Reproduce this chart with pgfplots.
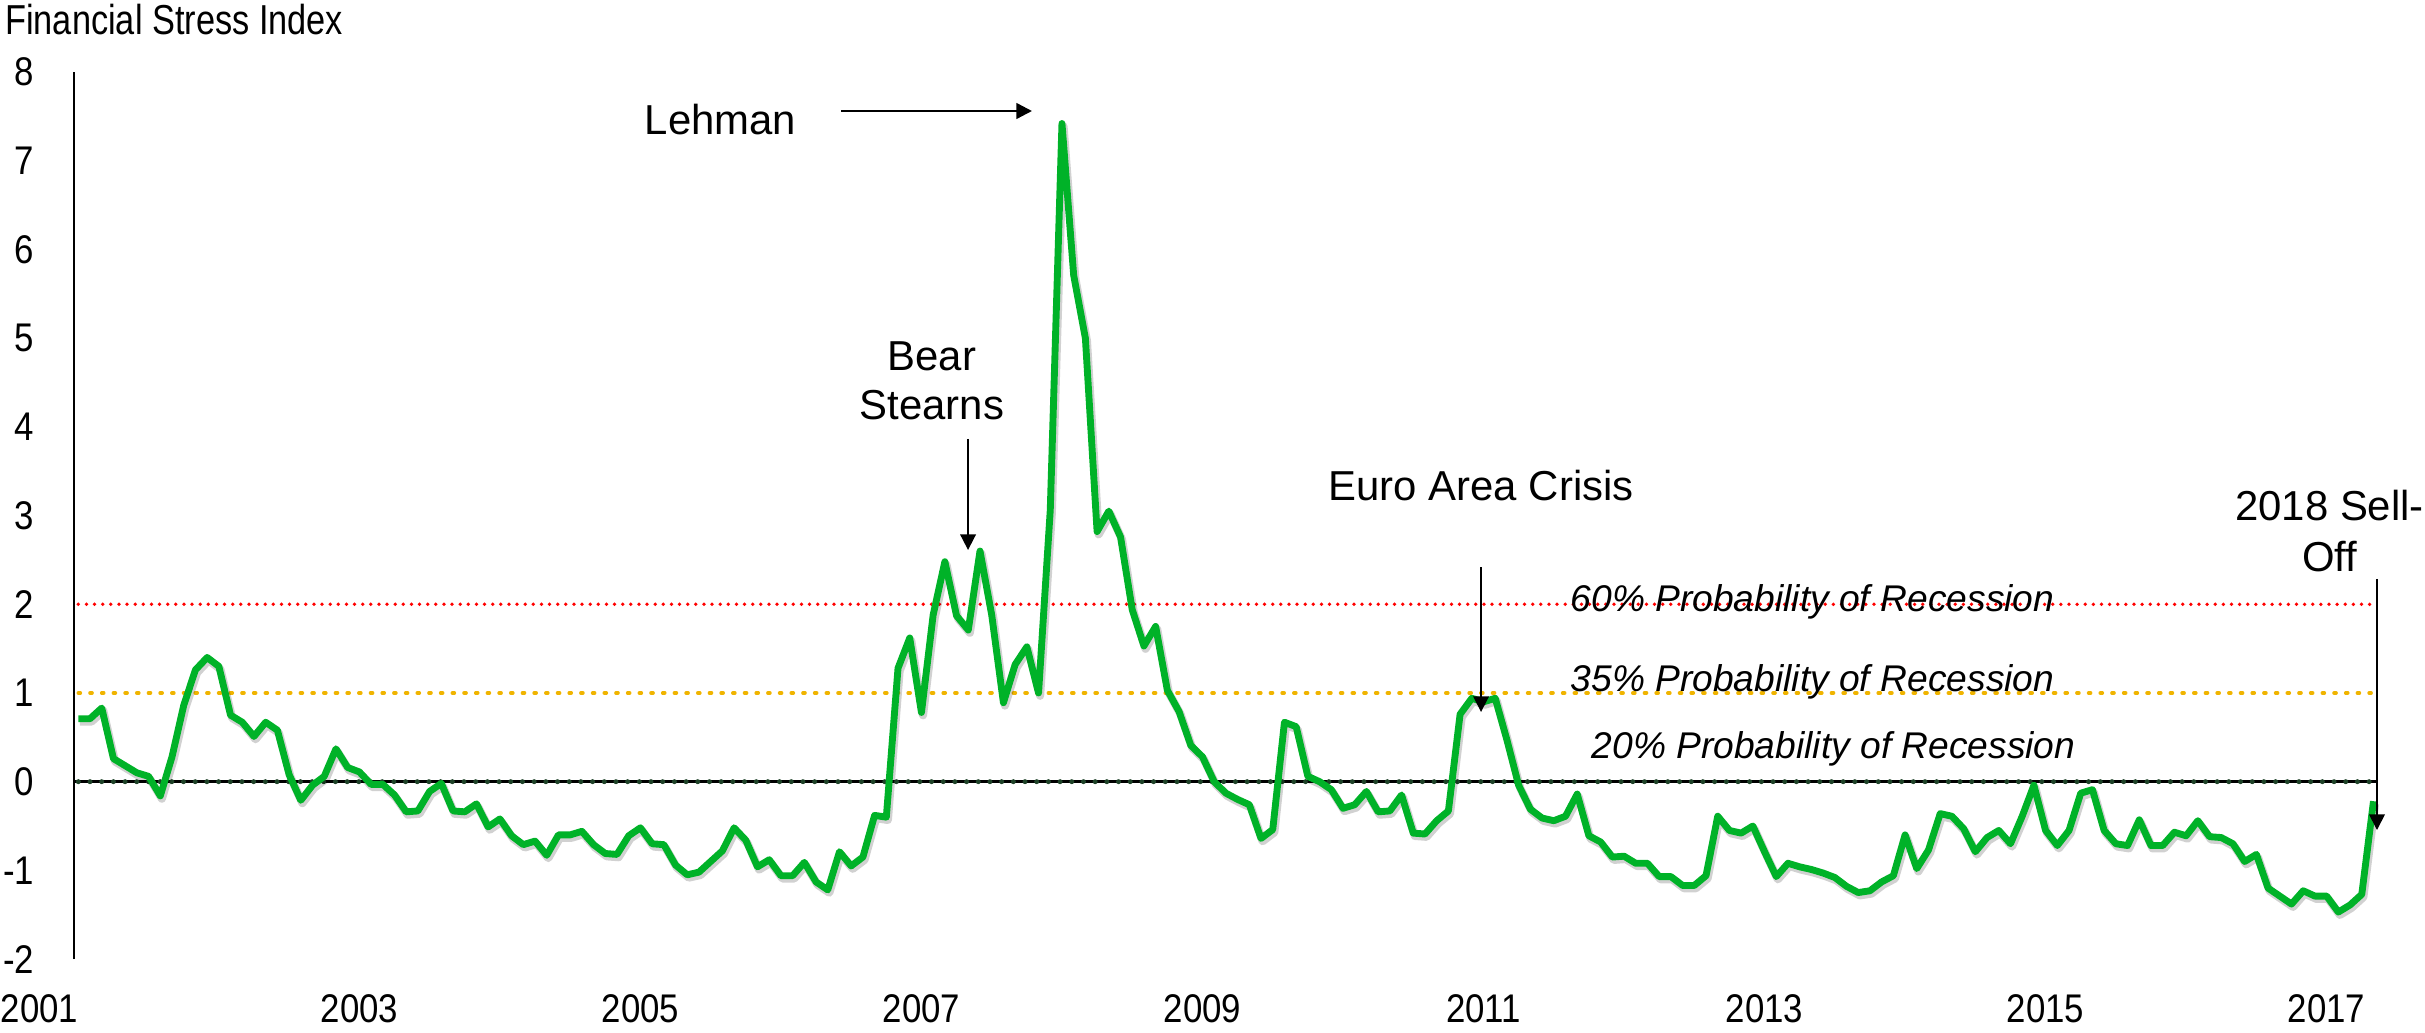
\documentclass[border=0pt]{standalone}
\usepackage{fontspec}
\setmainfont{Liberation Sans}
\usepackage{graphicx}
\usepackage{pgfplots}
\usepackage{pgfplotstable}
\pgfplotsset{compat=1.18}
\usetikzlibrary{arrows.meta}
\definecolor{fsigreen}{RGB}{0,178,40}
\definecolor{refred}{RGB}{255,0,0}
\definecolor{refgold}{RGB}{240,180,0}
\definecolor{refdkgreen}{RGB}{30,66,40}
\newcommand{\mainfont}{\fontsize{13.4}{16}\selectfont}
\newcommand{\tickfont}{\fontsize{12.8}{15}\selectfont}
\newcommand{\tl}[1]{\scalebox{0.87}[1]{#1}}
\newcommand{\probfont}{\fontsize{11.9}{14}\selectfont\itshape}
\pgfplotstableread{
v
0.71
0.71
0.83
0.26
0.18
0.10
0.06
-0.16
0.28
0.86
1.26
1.40
1.30
0.75
0.67
0.51
0.67
0.58
0.08
-0.21
-0.04
0.06
0.37
0.16
0.11
-0.03
-0.03
-0.15
-0.34
-0.33
-0.11
-0.02
-0.33
-0.34
-0.25
-0.51
-0.42
-0.61
-0.71
-0.67
-0.83
-0.60
-0.60
-0.56
-0.71
-0.81
-0.82
-0.61
-0.52
-0.70
-0.71
-0.94
-1.05
-1.02
-0.90
-0.78
-0.52
-0.66
-0.96
-0.88
-1.06
-1.06
-0.91
-1.13
-1.22
-0.79
-0.95
-0.85
-0.38
-0.40
1.28
1.62
0.78
1.88
2.48
1.87
1.71
2.60
1.88
0.89
1.32
1.52
1.00
3.06
7.42
5.71
5.00
2.82
3.05
2.76
1.94
1.53
1.75
1.03
0.79
0.41
0.28
0.00
-0.13
-0.20
-0.26
-0.64
-0.54
0.67
0.62
0.06
0.00
-0.09
-0.30
-0.26
-0.11
-0.34
-0.33
-0.15
-0.58
-0.59
-0.44
-0.33
0.76
0.94
0.90
0.94
0.47
-0.04
-0.31
-0.41
-0.44
-0.39
-0.14
-0.61
-0.68
-0.85
-0.84
-0.92
-0.92
-1.07
-1.07
-1.17
-1.17
-1.06
-0.39
-0.55
-0.58
-0.50
-0.79
-1.07
-0.92
-0.96
-0.99
-1.03
-1.08
-1.18
-1.25
-1.23
-1.13
-1.06
-0.60
-0.98
-0.77
-0.36
-0.39
-0.53
-0.79
-0.63
-0.55
-0.70
-0.39
-0.04
-0.55
-0.72
-0.55
-0.13
-0.09
-0.55
-0.70
-0.72
-0.43
-0.72
-0.72
-0.57
-0.61
-0.44
-0.62
-0.63
-0.70
-0.90
-0.82
-1.20
-1.29
-1.38
-1.23
-1.29
-1.29
-1.47
-1.39
-1.27
-0.22
}\fsidata
\begin{document}
\begin{tikzpicture}
\path[use as bounding box] (-23.68pt,-23.65pt) rectangle (752.32pt,306.9pt);
\begin{axis}[
  at={(0pt,0pt)}, anchor=south west,
  scale only axis, width=737.7pt, height=283.84pt,
  xmin=-0.37, xmax=196.5, ymin=-2, ymax=8,
  axis x line*=bottom, axis y line*=left,
  x axis line style={draw=none},
  y axis line style={black, line width=0.6pt},
  tick style={draw=none},
  xtick={24,48,...,192},
  xticklabels={\tl{2003},\tl{2005},\tl{2007},\tl{2009},\tl{2011},\tl{2013},\tl{2015},\tl{2017}},
  extra x ticks={0},
  extra x tick labels={\tl{2001}},
  extra x tick style={xticklabel style={xshift=-12.4pt}},
  ytick={-2,-1,...,8},
  yticklabels={\tl{-2},\tl{-1},\tl{0},\tl{1},\tl{2},\tl{3},\tl{4},\tl{5},\tl{6},\tl{7},\tl{8}},
  ticklabel style={font=\tickfont},
  yticklabel style={anchor=east, inner sep=0pt, xshift=-12.5pt},
  xticklabel style={anchor=north, inner sep=0pt, yshift=-11.3pt},
  clip=false,
]
% reference lines
\addplot[black, line width=0.9pt] coordinates {(-0.37,0) (196.4,0)};
\addplot[refdkgreen, line width=1.6pt, line cap=round, dash pattern=on 0pt off 3.74pt] coordinates {(0,0) (196.4,0)};
\addplot[refred, line width=1.2pt, line cap=round, dash pattern=on 0pt off 2.6pt] coordinates {(0,2) (195.8,2)};
\addplot[refgold, line width=1.15pt, line cap=round, dash pattern=on 0.65pt off 3.09pt] coordinates {(0,1) (195.8,1)};
% shadow of the series
\addplot[black, opacity=0.18, line width=2.6pt, line join=round, xshift=0.5pt, yshift=-0.9pt] table[x expr=\coordindex, y=v] {\fsidata};
% financial stress index, monthly
\addplot[fsigreen, line width=2.2pt, line join=round] table[x expr=\coordindex, y=v] {\fsidata};
% annotations
\draw[-{Triangle[length=5pt,width=5pt]}, line width=0.8pt] (axis cs:65.13,7.561) -- (axis cs:81.44,7.561);
\draw[-{Triangle[length=5pt,width=5pt]}, line width=0.55pt] (axis cs:75.98,3.864) -- (axis cs:75.98,2.612);
\draw[-{Triangle[length=5pt,width=5pt]}, line width=0.55pt] (axis cs:119.79,2.42) -- (axis cs:119.79,0.786);
\draw[-{Triangle[length=5pt,width=5pt]}, line width=0.55pt] (axis cs:196.3,2.285) -- (axis cs:196.3,-0.545);
\node[anchor=base west, inner sep=0pt, font=\mainfont] at (axis cs:-6.29,8.418) {\scalebox{0.82}[1]{Financial Stress Index}};
\node[anchor=base, inner sep=0pt, font=\mainfont] at (axis cs:54.84,7.291) {Lehman};
\node[anchor=base, inner sep=0pt, font=\mainfont] at (axis cs:72.9,4.641) {Bear};
\node[anchor=base, inner sep=0pt, font=\mainfont] at (axis cs:72.9,4.078) {Stearns};
\node[anchor=base, inner sep=0pt, font=\mainfont] at (axis cs:119.8,3.167) {Euro Area Crisis};
\node[anchor=base, inner sep=0pt, font=\mainfont] at (axis cs:192.25,2.94) {2018 Sell-};
\node[anchor=base, inner sep=0pt, font=\mainfont] at (axis cs:192.25,2.375) {Off};
\node[anchor=base east, inner sep=0pt, font=\probfont] at (axis cs:168.8,1.913) {60\% Probability of Recession};
\node[anchor=base east, inner sep=0pt, font=\probfont] at (axis cs:168.8,1.011) {35\% Probability of Recession};
\node[anchor=base east, inner sep=0pt, font=\probfont] at (axis cs:170.6,0.256) {20\% Probability of Recession};
\end{axis}
\end{tikzpicture}
\end{document}
